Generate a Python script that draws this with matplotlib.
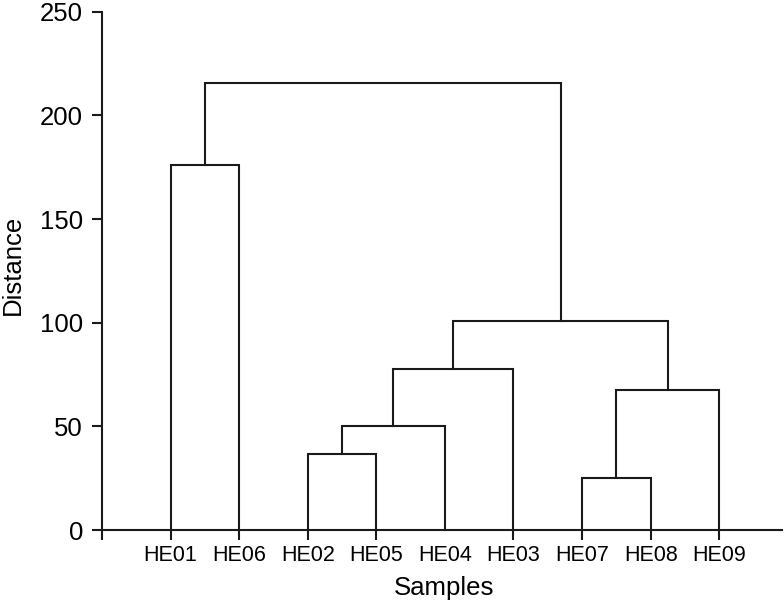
import matplotlib
matplotlib.use("Agg")
import matplotlib.pyplot as plt

plt.rcParams['font.family'] = ['Liberation Sans', 'DejaVu Sans']

# ---- data ----
LEAVES = ['HE01', 'HE06', 'HE02', 'HE05', 'HE04', 'HE03', 'HE07', 'HE08', 'HE09']
# merges: (left child, right child, height); children are leaf names or earlier merge ids
MERGE_LEFT = ['HE02', 'c1', 'c2', 'HE07', 'c4', 'c3', 'HE01', 'c7']
MERGE_RIGHT = ['HE05', 'HE04', 'HE03', 'HE08', 'HE09', 'c5', 'HE06', 'c6']
MERGE_HEIGHT = [36.5, 50.0, 77.5, 25.0, 67.5, 101.0, 176.0, 215.5]
Y_TICKS = [0, 50, 100, 150, 200, 250]

fig = plt.figure(figsize=(7.84, 6.09), dpi=100)
ax = fig.add_axes([0.130, 0.1297, 0.867, 0.851])

# leaf positions 1..n, cluster x = midpoint of its children
pos = {name: i + 1 for i, name in enumerate(LEAVES)}
hgt = {name: 0.0 for name in LEAVES}

for k, (a, b, h) in enumerate(zip(MERGE_LEFT, MERGE_RIGHT, MERGE_HEIGHT)):
    xa, xb = pos[a], pos[b]
    ax.plot([xa, xa, xb, xb], [hgt[a], h, h, hgt[b]], color='#1a1a1a', lw=1.5,
            solid_joinstyle='miter', clip_on=False)
    cid = f"c{k + 1}"
    pos[cid] = (xa + xb) / 2
    hgt[cid] = h

ax.set_xlim(0, 9.91)
ax.set_ylim(0, 250)

for s in ['top', 'right']:
    ax.spines[s].set_visible(False)
for s in ['left', 'bottom']:
    ax.spines[s].set_linewidth(1.5)
    ax.spines[s].set_color('#1a1a1a')

# major ticks (no tick drawn under HE04 in the original), labels on minor ticks
ax.xaxis.remove_overlapping_locs = False
tick_pos = [0] + [pos[n] for n in LEAVES if n != 'HE04']
ax.set_xticks(tick_pos)
ax.set_xticklabels([])
ax.set_xticks([pos[n] for n in LEAVES], minor=True)
ax.set_xticklabels(LEAVES, minor=True)
ax.tick_params(axis='x', which='major', length=7.5, width=1.5, direction='out', color='#1a1a1a')
ax.tick_params(axis='x', which='minor', length=0, pad=11, labelsize=15.5)

ax.set_yticks(Y_TICKS)
ax.tick_params(axis='y', length=7.5, width=1.5, direction='out', pad=6,
               labelsize=18.5, color='#1a1a1a')

ax.set_xlabel('Samples', fontsize=18.5)
ax.xaxis.set_label_coords(0.503, -0.088)
ax.set_ylabel('Distance', fontsize=18.5)
ax.yaxis.set_label_coords(-0.113, 0.512)

fig.savefig('out.png', dpi=100)
